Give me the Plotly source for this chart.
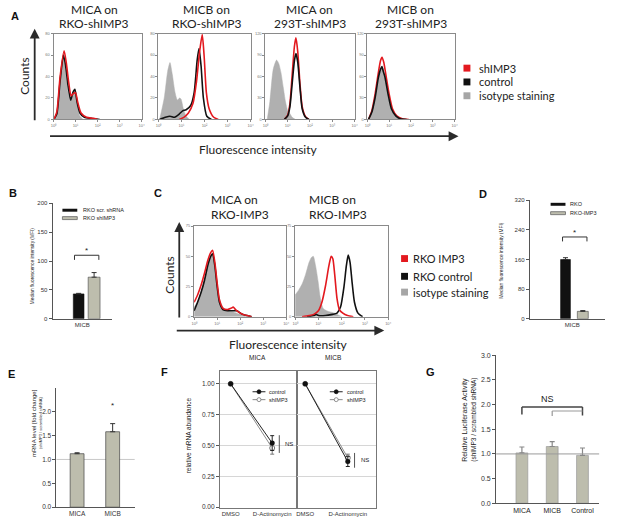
import plotly.graph_objects as go

W, H = 617, 525

# ---------------- DATA ----------------
# Panel A histograms (x = log10 fluorescence, y = counts)
a1_iso_x = [0.02, 0.15, 0.3, 0.42, 0.5, 0.6, 0.7, 0.8, 0.9, 0.98, 1.08, 1.2, 1.35]
a1_iso_y = [0, 6, 38, 58, 52, 35, 22, 20, 23, 25, 12, 3, 0]
a1_ctl_x = [0.02, 0.15, 0.3, 0.45, 0.55, 0.65, 0.78, 0.88, 0.97, 1.07, 1.2, 1.4, 1.7, 2.1]
a1_ctl_y = [0, 5, 36, 60, 50, 33, 18, 25, 28, 16, 6, 2, 1, 0]
a1_sh_x = [0.02, 0.15, 0.3, 0.48, 0.58, 0.68, 0.8, 0.9, 1.0, 1.1, 1.25, 1.5, 1.8, 2.0]
a1_sh_y = [0, 7, 40, 64, 53, 36, 22, 24, 25, 16, 6, 2, 1, 0]

a2_iso_x = [0.05, 0.25, 0.4, 0.5, 0.6, 0.72, 0.82, 0.92, 0.98, 1.08, 1.2, 1.35]
a2_iso_y = [0, 20, 45, 53, 42, 25, 18, 20, 19, 10, 3, 0]
a2_ctl_x = [0.05, 0.3, 0.5, 0.7, 0.9, 1.05, 1.2, 1.4, 1.55, 1.68, 1.76, 1.85, 1.95, 2.1, 2.3]
a2_ctl_y = [0, 2, 3, 2, 5, 8, 9, 13, 25, 55, 66, 50, 20, 3, 0]
a2_sh_x = [0.9, 1.1, 1.3, 1.5, 1.65, 1.78, 1.9, 1.98, 2.08, 2.2, 2.4, 2.6]
a2_sh_y = [0, 2, 6, 15, 35, 62, 79, 60, 25, 10, 2, 0]

a3_iso_x = [0.08, 0.2, 0.35, 0.5, 0.6, 0.7, 0.8, 0.9, 1.0, 1.1, 1.2, 1.35]
a3_iso_y = [0, 25, 70, 83, 78, 65, 45, 25, 12, 8, 3, 0]
a3_ctl_x = [0.85, 1.0, 1.1, 1.2, 1.3, 1.37, 1.45, 1.55, 1.65, 1.8, 1.95]
a3_ctl_y = [0, 5, 18, 50, 82, 92, 80, 45, 15, 3, 0]
a3_sh_x = [0.85, 1.0, 1.1, 1.2, 1.3, 1.37, 1.45, 1.55, 1.65, 1.8, 1.95]
a3_sh_y = [0, 6, 22, 62, 102, 114, 95, 50, 18, 4, 0]

a4_iso_x = [0.05, 0.2, 0.35, 0.5, 0.62, 0.7, 0.8, 0.95, 1.1, 1.3, 1.5, 1.7]
a4_iso_y = [0, 10, 30, 55, 70, 72, 60, 35, 15, 5, 1, 0]
a4_ctl_x = [0.05, 0.2, 0.35, 0.5, 0.6, 0.67, 0.72, 0.8, 0.95, 1.1, 1.3, 1.5, 1.8]
a4_ctl_y = [0, 10, 30, 58, 70, 74, 68, 60, 35, 15, 5, 1, 0]
a4_sh_x = [0.05, 0.2, 0.35, 0.5, 0.6, 0.67, 0.75, 0.85, 1.0, 1.15, 1.35, 1.6, 1.9]
a4_sh_y = [0, 12, 35, 65, 82, 87, 80, 62, 35, 15, 5, 1, 0]

# Panel C histograms
c1_iso_x = [0.0, 0.15, 0.3, 0.45, 0.6, 0.72, 0.8, 0.9, 1.0, 1.1, 1.25, 1.45, 1.7, 2.0, 2.3]
c1_iso_y = [8, 12, 20, 32, 45, 50, 52, 45, 30, 15, 8, 5, 4, 2, 0]
c1_ctl_x = [0.0, 0.15, 0.3, 0.45, 0.6, 0.72, 0.8, 0.9, 1.0, 1.1, 1.25, 1.45, 1.65, 1.85, 2.1, 2.5]
c1_ctl_y = [5, 12, 20, 30, 43, 50, 52, 42, 25, 12, 6, 5, 5, 5, 2, 0]
c1_imp_x = [0.0, 0.15, 0.3, 0.45, 0.6, 0.72, 0.8, 0.9, 1.0, 1.1, 1.25, 1.45, 1.6, 1.7, 1.85, 2.1, 2.5]
c1_imp_y = [12, 18, 26, 36, 47, 53, 55, 45, 28, 14, 7, 6, 7, 8, 5, 2, 0]

c2_iso_x = [0.0, 0.15, 0.3, 0.45, 0.6, 0.7, 0.78, 0.88, 0.98, 1.08, 1.2, 1.35, 1.5, 1.7, 2.0]
c2_iso_y = [18, 22, 27, 35, 45, 49, 50, 42, 30, 16, 7, 5, 4, 3, 0]
c2_imp_x = [0.3, 0.6, 0.8, 1.0, 1.15, 1.3, 1.45, 1.55, 1.62, 1.7, 1.8, 1.9, 2.05, 2.25, 2.5]
c2_imp_y = [0, 1, 2, 5, 12, 25, 42, 50, 48, 35, 15, 6, 3, 1, 0]
c2_ctl_x = [0.5, 0.8, 0.9, 1.0, 1.3, 1.6, 1.8, 1.95, 2.1, 2.2, 2.28, 2.36, 2.45, 2.55, 2.7, 2.9]
c2_ctl_y = [0, 1, 2, 1, 1, 2, 3, 8, 25, 42, 51, 45, 28, 12, 3, 0]

hist_tick_vals = [1, 10, 100, 1000, 10000]
hist_tick_text = ["10⁰", "10¹", "10²", "10³", "10⁴"]

# Panel B
b_cat = ["MICB"]
b_scr = [43]
b_scr_err = [1]
b_sh = [72]
b_sh_err = [8]

# Panel D
d_cat = ["MICB"]
d_rko = [160]
d_rko_err = [5]
d_imp = [20]
d_imp_err = [2]

# Panel E
e_cat = ["MICA", "MICB"]
e_val = [1.12, 1.58]
e_err = [0.02, 0.17]

# Panel F
f_x = ["DMSO", "D-Actinomycin"]
f_mica_ctl = [1.0, 0.52]
f_mica_ctl_err = [0, 0.06]
f_mica_sh = [1.0, 0.48]
f_mica_sh_err = [0, 0.05]
f_micb_ctl = [1.0, 0.37]
f_micb_ctl_err = [0, 0.04]
f_micb_sh = [1.0, 0.40]
f_micb_sh_err = [0, 0.03]

# Panel G
g_cat = ["MICA", "MICB", "Control"]
g_val = [1.02, 1.15, 0.97]
g_err = [0.12, 0.10, 0.15]

# ---------------- STYLE ----------------
RED = "#e3191f"
BLK = "#111111"
ISO = "#b0b0b0"
BARG = "#bdbdad"
TFONT = "Lato"
AFONT = "Liberation Sans"


def px(x):
    return x / W


def py(y):
    return 1 - y / H


fig = go.Figure()
layout = {}
annotations = []
shapes = []


def ax_names(n):
    return ("xaxis" if n == 1 else f"xaxis{n}", "yaxis" if n == 1 else f"yaxis{n}",
            "x" if n == 1 else f"x{n}", "y" if n == 1 else f"y{n}")


def hist_axes(n, x0, x1, ytop, ybot, ymax, dt):
    xa, ya, xr, yr = ax_names(n)
    common = dict(showline=True, mirror=True, linecolor="#8a8a8a", linewidth=1,
                  ticks="outside", ticklen=2, tickcolor="#8a8a8a",
                  tickfont=dict(size=4, color="#777", family=AFONT),
                  showgrid=False, zeroline=False, fixedrange=True)
    layout[xa] = dict(domain=[px(x0), px(x1)], anchor=yr, type="log", range=[0, 4],
                      tickvals=hist_tick_vals, ticktext=hist_tick_text, **common)
    layout[ya] = dict(domain=[py(ybot), py(ytop)], anchor=xr, range=[0, ymax],
                      dtick=dt, **common)
    return xr, yr


def hist(n, iso, ctl, sh, ctl_color, sh_color, order="cs"):
    _, _, xr, yr = ax_names(n)
    fig.add_trace(go.Scatter(x=[10 ** v for v in iso[0]], y=iso[1], xaxis=xr, yaxis=yr,
                             mode="lines", fill="tozeroy", fillcolor=ISO,
                             line=dict(color=ISO, width=0.5, shape="spline", smoothing=0.6),
                             showlegend=False, hoverinfo="skip"))
    pairs = [(ctl, ctl_color), (sh, sh_color)]
    if order == "sc":
        pairs = pairs[::-1]
    for d, col in pairs:
        fig.add_trace(go.Scatter(x=[10 ** v for v in d[0]], y=d[1], xaxis=xr, yaxis=yr,
                                 mode="lines",
                                 line=dict(color=col, width=1.6, shape="spline", smoothing=0.6),
                                 showlegend=False, hoverinfo="skip"))


# Panel A
hist_axes(1, 51, 140, 30, 117, 80, 20)
hist(1, (a1_iso_x, a1_iso_y), (a1_ctl_x, a1_ctl_y), (a1_sh_x, a1_sh_y), BLK, RED)
hist_axes(2, 157, 250, 30, 117, 80, 20)
hist(2, (a2_iso_x, a2_iso_y), (a2_ctl_x, a2_ctl_y), (a2_sh_x, a2_sh_y), BLK, RED)
hist_axes(3, 265, 355, 30, 117, 120, 30)
hist(3, (a3_iso_x, a3_iso_y), (a3_ctl_x, a3_ctl_y), (a3_sh_x, a3_sh_y), BLK, RED, order="sc")
hist_axes(4, 368, 456, 30, 117, 120, 30)
hist(4, (a4_iso_x, a4_iso_y), (a4_ctl_x, a4_ctl_y), (a4_sh_x, a4_sh_y), BLK, RED, order="sc")

# Panel C
hist_axes(5, 193, 286, 225, 317, 75, 25)
hist(5, (c1_iso_x, c1_iso_y), (c1_ctl_x, c1_ctl_y), (c1_imp_x, c1_imp_y), BLK, RED)
hist_axes(6, 295, 389, 225, 317, 75, 25)
hist(6, (c2_iso_x, c2_iso_y), (c2_ctl_x, c2_ctl_y), (c2_imp_x, c2_imp_y), BLK, RED)


def ann(x, y, text, size, family=TFONT, color="#222", xanchor="center", angle=0, bold=False):
    if bold:
        text = f"<b>{text}</b>"
    annotations.append(dict(x=px(x), y=py(y), xref="paper", yref="paper", text=text,
                            showarrow=False, xanchor=xanchor, yanchor="middle",
                            textangle=angle, font=dict(size=size, family=family, color=color)))


def arrow(xh, yh, xt, yt):
    annotations.append(dict(x=px(xh), y=py(yh), xref="paper", yref="paper", text="",
                            showarrow=True, ax=xt - xh, ay=yt - yh, axref="pixel", ayref="pixel",
                            arrowhead=2, arrowsize=1.1, arrowwidth=1.8, arrowcolor="#2a2a2a"))


def rect(x0, y0, x1, y1, fill, line=None):
    shapes.append(dict(type="rect", xref="paper", yref="paper", x0=px(x0), x1=px(x1),
                       y0=py(y1), y1=py(y0), fillcolor=fill,
                       line=dict(color=line or fill, width=0.8 if line else 0)))


def pline(x0, y0, x1, y1, color="#333", width=1):
    shapes.append(dict(type="line", xref="paper", yref="paper", x0=px(x0), x1=px(x1),
                       y0=py(y0), y1=py(y1), line=dict(color=color, width=width)))


# Panel letters
for letter, lx, ly in [("A", 12, 12), ("B", 10, 192), ("C", 157, 192), ("D", 485, 193),
                       ("E", 9, 375), ("F", 163, 373), ("G", 432, 373)]:
    ann(lx, ly, letter, 11, family="Liberation Sans", color="#111", bold=True)

# Panel A titles / axes / legend
for cx, l1, l2 in [(92, "MICA on", "RKO-shIMP3"), (206, "MICB on", "RKO-shIMP3"),
                   (310, "MICA on", "293T-shIMP3"), (412, "MICB on", "293T-shIMP3")]:
    ann(cx, 6, l1, 12)
    ann(cx, 20, l2, 12)
arrow(32, 25, 32, 118)
arrow(460, 134, 50, 134)
ann(21, 73, "Counts", 12, angle=-90)
ann(258, 147, "Fluorescence intensity", 12)
for yy, col, txt in [(65, RED, "shIMP3"), (79, BLK, "control"), (93, "#a6a6a6", "isotype staining")]:
    shapes.append(dict(type="rect", xref="paper", yref="paper", x0=px(465), x1=px(472),
                       y0=py(yy + 3.5), y1=py(yy - 3.5), fillcolor=col, line=dict(width=0)))
    ann(479, yy, txt, 11, xanchor="left")

# Panel C titles / axes / legend
ann(208, 198, "MICA on", 12, xanchor="left")
ann(208, 213, "RKO-IMP3", 12, xanchor="left")
ann(307, 198, "MICB on", 12, xanchor="left")
ann(307, 213, "RKO-IMP3", 12, xanchor="left")
arrow(178, 221, 178, 318)
arrow(385, 331, 176, 331)
ann(168, 274, "Counts", 12, angle=-90)
ann(288, 345, "Fluorescence intensity", 12)
for yy, col, txt in [(258, RED, "RKO IMP3"), (276, BLK, "RKO control"), (292, "#a6a6a6", "isotype staining")]:
    shapes.append(dict(type="rect", xref="paper", yref="paper", x0=px(402), x1=px(409),
                       y0=py(yy + 3.5), y1=py(yy - 3.5), fillcolor=col, line=dict(width=0)))
    ann(412, yy, txt, 11, xanchor="left")


# ---------------- bar panels ----------------
def bar_axes(n, x0, x1, ytop, ybot, xrange, yrange, tickvals, ticktext, tsize=6):
    xa, ya, xr, yr = ax_names(n)
    layout[xa] = dict(domain=[px(x0), px(x1)], anchor=yr, type="category", range=xrange,
                      showline=True, linecolor="#555", linewidth=1, ticks="",
                      tickfont=dict(size=tsize, family=AFONT, color="#333"),
                      showgrid=False, zeroline=False, fixedrange=True)
    layout[ya] = dict(domain=[py(ybot), py(ytop)], anchor=xr, range=yrange,
                      tickvals=tickvals, ticktext=ticktext, ticks="outside", ticklen=3,
                      tickcolor="#555", showline=True, linecolor="#555", linewidth=1,
                      tickfont=dict(size=tsize, family=AFONT, color="#333"),
                      showgrid=False, zeroline=False, fixedrange=True)
    return xr, yr


err_style = dict(type="data", symmetric=False, color="#333", thickness=1, width=2.5)

# Panel B
xr, yr = bar_axes(7, 50, 110, 202, 319, [-0.5, 0.5], [0, 200], [0, 50, 100, 150, 200],
                  ["0", "50", "100", "150", "200"], 6)
b_off = [-0.15, 0.1]
b_w = [0.18, 0.2]
fig.add_trace(go.Bar(x=b_cat, y=b_scr, xaxis=xr, yaxis=yr, marker=dict(color=BLK, line=dict(color=BLK, width=0.6)),
                     width=b_w[0], offset=b_off[0], showlegend=False,
                     error_y=dict(array=b_scr_err, arrayminus=[0] * len(b_scr_err), **err_style)))
fig.add_trace(go.Bar(x=b_cat, y=b_sh, xaxis=xr, yaxis=yr, marker=dict(color=BARG, line=dict(color="#444", width=0.6)),
                     width=b_w[1], offset=b_off[1], showlegend=False,
                     error_y=dict(array=b_sh_err, arrayminus=[0] * len(b_sh_err), **err_style)))
bt = max(b_scr[0] + b_scr_err[0], b_sh[0] + b_sh_err[0]) + 30
bx0, bx1 = b_off[0] + 0.02, b_off[1] + b_w[1] - 0.02
for seg in [(bx0, bt, bx1, bt), (bx0, bt, bx0, bt - 8), (bx1, bt, bx1, bt - 8)]:
    shapes.append(dict(type="line", xref=xr, yref=yr, x0=seg[0], y0=seg[1], x1=seg[2], y1=seg[3],
                       line=dict(color="#333", width=1)))
annotations.append(dict(x=(bx0 + bx1) / 2, y=bt + 8, xref=xr, yref=yr, text="*", showarrow=False,
                        font=dict(size=8, family=AFONT, color="#222")))
rect(60, 207.5, 75, 210.5, BLK)
rect(60, 215.5, 75, 218.5, BARG, "#666")
ann(79, 209, "RKO scr. shRNA", 5.5, family=AFONT, xanchor="left")
ann(79, 217, "RKO shIMP3", 5.5, family=AFONT, xanchor="left")
ann(30, 266, "Median fluorescence intensity (MFI)", 4.8, family=AFONT, angle=-90)

# Panel D
xr, yr = bar_axes(8, 532, 608, 199, 319, [-0.65, 0.5], [0, 320], [0, 80, 160, 240, 320],
                  ["0", "80", "160", "240", "320"], 6)
d_off = [-0.18, 0.076]
d_w = [0.15, 0.167]
fig.add_trace(go.Bar(x=d_cat, y=d_rko, xaxis=xr, yaxis=yr, marker=dict(color=BLK, line=dict(color=BLK, width=0.6)),
                     width=d_w[0], offset=d_off[0], showlegend=False,
                     error_y=dict(array=d_rko_err, arrayminus=[0] * len(d_rko_err), **err_style)))
fig.add_trace(go.Bar(x=d_cat, y=d_imp, xaxis=xr, yaxis=yr, marker=dict(color=BARG, line=dict(color="#444", width=0.6)),
                     width=d_w[1], offset=d_off[1], showlegend=False,
                     error_y=dict(array=d_imp_err, arrayminus=[0] * len(d_imp_err), **err_style)))
dt_ = max(d_rko[0] + d_rko_err[0], d_imp[0] + d_imp_err[0]) + 56
dx0, dx1 = d_off[0] + 0.03, d_off[1] + d_w[1] - 0.02
for seg in [(dx0, dt_, dx1, dt_), (dx0, dt_, dx0, dt_ - 12), (dx1, dt_, dx1, dt_ - 12)]:
    shapes.append(dict(type="line", xref=xr, yref=yr, x0=seg[0], y0=seg[1], x1=seg[2], y1=seg[3],
                       line=dict(color="#333", width=1)))
annotations.append(dict(x=(dx0 + dx1) / 2, y=dt_ + 12, xref=xr, yref=yr, text="*", showarrow=False,
                        font=dict(size=8, family=AFONT, color="#222")))
rect(553, 201.5, 568, 204.5, BLK)
rect(553, 210.5, 568, 213.5, BARG, "#666")
ann(571, 203, "RKO", 5.5, family=AFONT, xanchor="left")
ann(571, 212, "RKO-IMP3", 5.5, family=AFONT, xanchor="left")
ann(503, 260, "Median fluorescence intensity (MFI)", 4.8, family=AFONT, angle=-90)

# Panel E
xr, yr = bar_axes(9, 54, 133, 389, 510, [-0.58, 1.62], [0, 2.5], [0, 0.5, 1.0, 1.5, 2.0],
                  ["0.0", "0.5", "1.0", "1.5", "2.0"], 6.5)
shapes.append(dict(type="line", xref=f"{xr} domain", yref=yr, x0=0, x1=1, y0=1.0, y1=1.0,
                   line=dict(color="#c8c8c8", width=1), layer="below"))
fig.add_trace(go.Bar(x=e_cat, y=e_val, xaxis=xr, yaxis=yr, width=0.39,
                     marker=dict(color=BARG, line=dict(color="#444", width=0.7)), showlegend=False,
                     error_y=dict(array=e_err, arrayminus=[0] * len(e_err), **err_style)))
annotations.append(dict(x=e_cat[1], y=e_val[1] + e_err[1] + 0.37, xref=xr, yref=yr, text="*",
                        showarrow=False, font=dict(size=8, family=AFONT, color="#222")))
ann(32, 425, "mRNA level [fold change]", 6, family=AFONT, angle=-90)
ann(38, 425, "(shIMP3 / scrambled shRNA)", 4, family=AFONT, angle=-90)

# Panel F
f_common_x = dict(type="category", showline=True, mirror=True, linecolor="#777", linewidth=1,
                  ticks="", tickfont=dict(size=6, family=AFONT, color="#333"),
                  showgrid=False, zeroline=False, fixedrange=True)
f_common_y = dict(range=[-0.008, 1.104], tickvals=[0, 0.25, 0.5, 0.75, 1.0], showline=True,
                  mirror=True, linecolor="#777", linewidth=1, showgrid=True, gridcolor="#d6d6d6",
                  gridwidth=1, zeroline=False, fixedrange=True,
                  tickfont=dict(size=6.5, family=AFONT, color="#333"))
layout["xaxis10"] = dict(domain=[px(219), px(297)], anchor="y10", range=[-0.26, 1.6], **f_common_x)
layout["yaxis10"] = dict(domain=[py(511), py(372)], anchor="x10", ticks="outside", ticklen=3,
                         tickcolor="#555", ticktext=["0.00", "0.25", "0.50", "0.75", "1.00"], **f_common_y)
layout["xaxis11"] = dict(domain=[px(297), px(377)], anchor="y11", range=[-0.19, 1.67], **f_common_x)
layout["yaxis11"] = dict(domain=[py(511), py(372)], anchor="x11", showticklabels=False, ticks="",
                         **f_common_y)
for xr_, yr_, ctl, ctle, sh, she in [("x10", "y10", f_mica_ctl, f_mica_ctl_err, f_mica_sh, f_mica_sh_err),
                                     ("x11", "y11", f_micb_ctl, f_micb_ctl_err, f_micb_sh, f_micb_sh_err)]:
    fig.add_trace(go.Scatter(x=f_x, y=sh, xaxis=xr_, yaxis=yr_, mode="lines+markers",
                             line=dict(color="#8a8a8a", width=1),
                             marker=dict(symbol="circle", size=5, color="white", line=dict(color="#777", width=1)),
                             error_y=dict(type="data", array=she, color="#777", thickness=1, width=2),
                             showlegend=False))
    fig.add_trace(go.Scatter(x=f_x, y=ctl, xaxis=xr_, yaxis=yr_, mode="lines+markers",
                             line=dict(color="#222", width=1),
                             marker=dict(symbol="circle", size=5, color="#111"),
                             error_y=dict(type="data", array=ctle, color="#222", thickness=1, width=2),
                             showlegend=False))
ann(257, 358, "MICA", 6.5, family=AFONT)
ann(333, 358, "MICB", 6.5, family=AFONT)
ann(187, 437, "relative mRNA abundance", 6.5, family=AFONT, angle=-90)
for lx, tx in [(252, 267), (330, 345)]:
    # control legend item
    pline(lx, 393, lx + 13, 393, "#222", 1)
    shapes.append(dict(type="circle", xref="paper", yref="paper", x0=px(lx + 4.5), x1=px(lx + 8.5),
                       y0=py(395), y1=py(391), fillcolor="#111", line=dict(color="#111", width=0.8)))
    ann(tx, 393, "control", 5.5, family=AFONT, xanchor="left")
    pline(lx, 401, lx + 13, 401, "#8a8a8a", 1)
    shapes.append(dict(type="circle", xref="paper", yref="paper", x0=px(lx + 4.5), x1=px(lx + 8.5),
                       y0=py(403), y1=py(399), fillcolor="white", line=dict(color="#777", width=0.8)))
    ann(tx, 401, "shIMP3", 5.5, family=AFONT, xanchor="left")
pline(279, 437, 279, 455, "#555", 1)
ann(283, 446, "NS", 6, family=AFONT, xanchor="left")
pline(355, 455, 355, 470, "#555", 1)
ann(359, 462, "NS", 6, family=AFONT, xanchor="left")

# Panel G
xr, yr = bar_axes(12, 498, 602, 356, 506, [-0.85, 2.55], [0, 3], [0, 0.5, 1, 1.5, 2, 2.5, 3],
                  ["0.0", "0.5", "1.0", "1.5", "2.0", "2.5", "3.0"], 7)
layout["xaxis12"]["tickfont"] = dict(size=7, family=AFONT, color="#222")
shapes.append(dict(type="line", xref=f"{xr} domain", yref=yr, x0=0, x1=1, y0=1.0, y1=1.0,
                   line=dict(color="#9a9a9a", width=1), layer="above"))
fig.add_trace(go.Bar(x=g_cat, y=g_val, xaxis=xr, yaxis=yr, width=0.39,
                     marker=dict(color=BARG, line=dict(color="#999", width=0.7)), showlegend=False,
                     error_y=dict(array=g_err, arrayminus=[0] * len(g_err), type="data", symmetric=False,
                                  color="#888", thickness=1.2, width=2.5)))
gtop = max(v + e for v, e in zip(g_val, g_err))
big = gtop + 0.7
small = gtop + 0.62
for seg in [(0, big, 2, big), (0, big, 0, big - 0.15), (2, big, 2, big - 0.17)]:
    shapes.append(dict(type="line", xref=xr, yref=yr, x0=seg[0], y0=seg[1], x1=seg[2], y1=seg[3],
                       line=dict(color="#444", width=1.5)))
for seg in [(1, small, 2, small), (1, small, 1, small - 0.1)]:
    shapes.append(dict(type="line", xref=xr, yref=yr, x0=seg[0], y0=seg[1], x1=seg[2], y1=seg[3],
                       line=dict(color="#999", width=1.2)))
annotations.append(dict(x=0.85, y=big + 0.17, xref=xr, yref=yr, text="NS", showarrow=False,
                        font=dict(size=9, family=AFONT, color="#222")))
ann(467, 421, "Relative Luciferase Activity", 7, family=AFONT, angle=-90)
ann(476, 421, "(shIMP3 / scrambled shRNA)", 6.5, family=AFONT, angle=-90)

fig.update_layout(width=W, height=H, autosize=False, margin=dict(l=0, r=0, t=0, b=0),
                  paper_bgcolor="white", plot_bgcolor="white", showlegend=False,
                  barmode="overlay", annotations=annotations, shapes=shapes, **layout)
fig.write_html("out.html", config={"displayModeBar": False},
               post_script="document.body.style.margin='0';")
